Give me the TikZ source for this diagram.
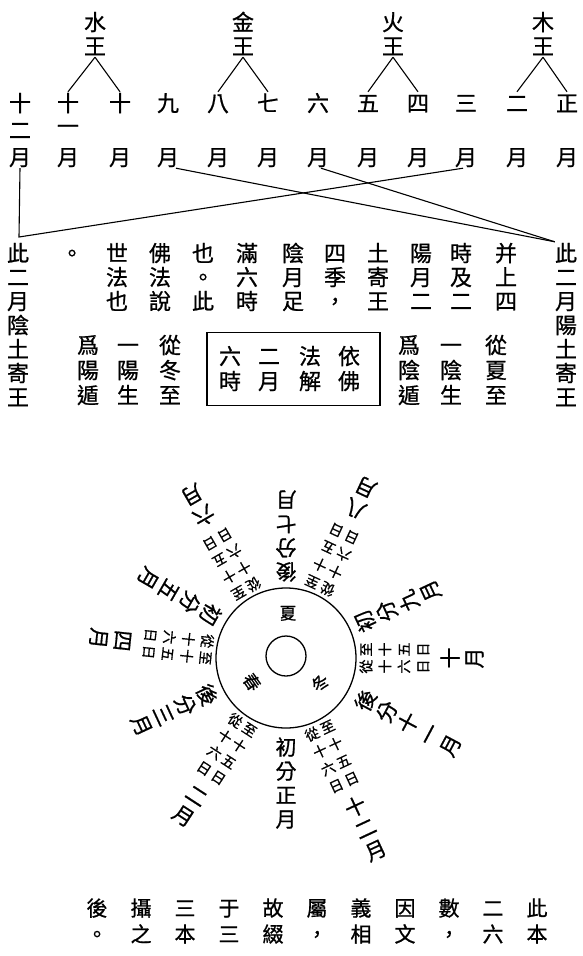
\documentclass[tikz,border=0pt]{standalone}
\usepackage{fontspec}
\setmainfont{Noto Sans CJK TC}[FakeBold=0.8]
\usetikzlibrary{calc}
\tikzset{
  ch/.style={inner sep=0pt, font=\fontsize{22}{22}\selectfont, text height=19.4pt, text depth=2.6pt},
  chb/.style={inner sep=0pt, font=\fontsize{21}{21}\selectfont, text height=18.5pt, text depth=2.5pt},
  ringbig/.style={inner sep=0pt, font=\fontsize{21}{21}\selectfont, text height=18.5pt, text depth=2.5pt},
  ringsmall/.style={inner sep=0pt, font=\fontsize{14}{14}\selectfont, text height=12.3pt, text depth=1.7pt},
  season/.style={inner sep=0pt, font=\fontsize{17}{17}\selectfont, text height=15pt, text depth=2pt},
  link/.style={line width=1.1pt},
  frame/.style={line width=1.6pt},
  ring/.style={line width=1.3pt},
}
\newcommand\vcol[6]{%
  \foreach \ch [count=\i] in {#6} {
    \node[#5] (#1-\i) at (#2,{#3+#4*(\i-1)}) {\ch};
  }%
}
\newcommand\bigray[4]{%
  \foreach \ch [count=\i] in {#4} {
    \pgfmathsetmacro\rr{#3+24*(\i-1)}
    \node[ringbig, rotate={180-#2}] (#1-\i) at ($(C)+({\rr*sin(#2)},{-\rr*cos(#2)})$) {\ch};
  }%
}
\newcommand\pairray[3]{%
  \foreach \pa/\pb [count=\i] in {從/至,十/十,六/五,日/日} {
    \pgfmathsetmacro\rr{80+19*(\i-1)}
    \node[ringsmall, rotate={180-#2}] (#1-s\i) at ($(C)+({\rr*sin(#2)},{-\rr*cos(#2)})$) {\pa\hspace{3pt}\pb};
  }%
  \foreach \ch [count=\i] in {#3} {
    \pgfmathsetmacro\rr{164+24*(\i-1)}
    \node[ringbig, rotate={180-#2}] (#1-\i) at ($(C)+({\rr*sin(#2)},{-\rr*cos(#2)})$) {\ch};
  }%
}
\begin{document}
\begin{tikzpicture}[x=1pt,y=-1pt]
\fill[white] (0,0) rectangle (583,956);
\useasboundingbox (0,0) rectangle (583,956);

% kings
\vcol{k1}{95}{22}{24}{ch}{水,王}
\vcol{k2}{243}{22}{24}{ch}{金,王}
\vcol{k3}{393}{22}{24}{ch}{火,王}
\vcol{k4}{543}{22}{24}{ch}{木,王}

% months
\node[ch] (n12) at (20,103) {十};
\node[ch] (n12b) at (20,130) {二};
\node[ch] (y12) at (20,157) {月};
\node[ch] (n11) at (68,103) {十};
\node[ch] (n11b) at (68,126) {一};
\node[ch] (y11) at (68,157) {月};
\foreach \x/\n/\k in {120/十/10,168/九/9,218/八/8,268/七/7,318/六/6,368/五/5,418/四/4,466/三/3,517/二/2,567/正/1} {
  \node[ch] (n\k) at (\x,103) {\n};
  \node[ch] (y\k) at (\x,157) {月};
}

% king links
\draw[link] (k1-2.south) -- (n11.north);
\draw[link] (k1-2.south) -- (n10.north);
\draw[link] (k2-2.south) -- (n8.north);
\draw[link] (k2-2.south) -- (n7.north);
\draw[link] (k3-2.south) -- (n5.north);
\draw[link] (k3-2.south) -- (n4.north);
\draw[link] (k4-2.south) -- (n2.north);
\draw[link] (k4-2.south) -- (n1.north);

% side columns
\vcol{lc}{18}{253}{24}{ch}{此,二,月,陰,土,寄,王}
\vcol{rc}{566}{253}{24}{ch}{此,二,月,陽,土,寄,王}

% earth-king links
\coordinate (J) at (19,237);
\draw[link] (y12.south) -- (J) -- ([xshift=-3pt]y3.south);
\draw[link] ([xshift=8pt]y9.south) -- (rc-1.north west);
\draw[link] ([xshift=3pt]y6.south) -- (rc-1.north west);

% upper text block
\vcol{t1}{506}{253}{24}{ch}{并,上,四}
\vcol{t2}{461}{253}{24}{ch}{時,及,二}
\vcol{t3}{421}{253}{24}{ch}{陽,月,二}
\vcol{t4}{378}{253}{24}{ch}{土,寄,王}
\vcol{t5}{335}{253}{24}{ch}{四,季,，}
\vcol{t6}{293}{253}{24}{ch}{陰,月,足}
\vcol{t7}{247}{253}{24}{ch}{滿,六,時}
\vcol{t8}{203}{253}{24}{ch}{也,。,此}
\vcol{t9}{160}{253}{24}{ch}{佛,法,說}
\vcol{t10}{117}{253}{24}{ch}{世,法,也}
\vcol{t11}{72}{253}{24}{ch}{。}

% lower blocks
\vcol{a1}{170}{345}{25}{ch}{從,冬,至}
\vcol{a2}{128}{345}{25}{ch}{一,陽,生}
\vcol{a3}{88}{345}{25}{ch}{爲,陽,遁}
\vcol{b1}{496}{345}{25}{ch}{從,夏,至}
\vcol{b2}{451}{345}{25}{ch}{一,陰,生}
\vcol{b3}{409}{345}{25}{ch}{爲,陰,遁}

% box
\node[frame, draw, minimum width=173pt, minimum height=73pt, inner sep=0pt] (box) at (293.5,369) {};
\vcol{c1}{349}{356}{25}{ch}{依,佛}
\vcol{c2}{310}{356}{25}{ch}{法,解}
\vcol{c3}{269}{356}{25}{ch}{二,月}
\vcol{c4}{230}{356}{25}{ch}{六,時}

% wheel
\coordinate (C) at (286,658);
\draw[ring] (C) circle[radius=70pt];
\draw[ring] (286,656) circle[radius=20pt];
\node[season] (su) at (288,613) {夏};
\node[season, rotate=-55] (sp) at (252,682) {春};
\node[season, rotate=50] (wi) at (320,683) {冬};

\bigray{m1}{180}{89}{初,分,正,月}
\pairray{m2}{213}{二,月}
\bigray{m3}{245}{87}{後,分,三,月}
\pairray{m4}{276}{四,月}
\bigray{m5}{300}{87}{初,分,五,月}
\pairray{m6}{330}{六,月}
\bigray{m7}{0}{86}{後,分,七,月}
\pairray{m8}{25}{八,月}
\bigray{m9}{65}{87}{初,分,九,月}
\pairray{m10}{90}{十,月}
\bigray{m11}{118}{90}{後,分,十,一,月}
\pairray{m12}{155}{十,二,月}

% bottom text
\vcol{e1}{537}{908}{26}{chb}{此,本}
\vcol{e2}{493}{908}{26}{chb}{二,六}
\vcol{e3}{449}{908}{26}{chb}{數,，}
\vcol{e4}{405}{908}{26}{chb}{因,文}
\vcol{e5}{361}{908}{26}{chb}{義,相}
\vcol{e6}{317}{908}{26}{chb}{屬,，}
\vcol{e7}{273}{908}{26}{chb}{故,綴}
\vcol{e8}{229}{908}{26}{chb}{于,三}
\vcol{e9}{185}{908}{26}{chb}{三,本}
\vcol{e10}{141}{908}{26}{chb}{攝,之}
\vcol{e11}{97}{908}{26}{chb}{後,。}
\end{tikzpicture}
\end{document}
